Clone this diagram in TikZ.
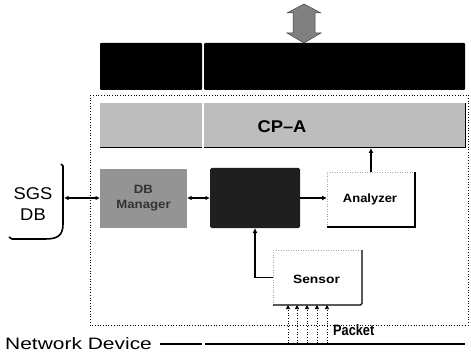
\documentclass[tikz,border=0pt]{standalone}
\usepackage{fontspec}
\usepackage{graphicx}
\setmainfont{Liberation Sans}
\usetikzlibrary{arrows.meta}
\newcommand\hsc[2]{\scalebox{#1}[1]{#2}}
\definecolor{cpgray}{gray}{0.74}
\begin{document}
\begin{tikzpicture}[x=1pt,y=-1pt,
  blk/.style={rectangle,inner sep=0pt,outer sep=0pt},
  arr/.style={-{Latex[length=5pt,width=5pt]},line width=1.2pt},
  darr/.style={{Latex[length=4.5pt,width=4.5pt]}-{Latex[length=4.5pt,width=4.5pt]},line width=1.2pt},
  pkt/.style={-{Triangle[length=4pt,width=4pt]},dotted,line width=0.7pt},
  lbl/.style={inner sep=0pt,align=center}]
\useasboundingbox (0,0) rectangle (471,358);
% top double block arrow
\filldraw[fill=black!50,draw=black!75,line width=0.5pt]
  (304,4) -- (321,13) -- (315,13) -- (315,33) -- (321,33) -- (304,43)
  -- (287,33) -- (293,33) -- (293,13) -- (287,13) -- cycle;
% black bar
\node[blk,fill=black,minimum width=102pt,minimum height=47pt,rounded corners=1pt] (bar1) at (151,66.5) {};
\node[blk,fill=black,minimum width=261pt,minimum height=47pt,rounded corners=1pt] (bar2) at (334.5,66.5) {};
% outer dotted box
\draw[dotted,line width=0.7pt] (90,95) rectangle (468,325);
% CP-A
\node[blk,fill=cpgray,minimum width=102pt,minimum height=45pt] (cpl) at (151,125.5) {};
\node[blk,fill=cpgray,minimum width=261pt,minimum height=45pt] (cpr) at (334.5,125.5) {};
\draw[line width=1pt] (cpl.south west) -- (cpl.south east);
\draw[line width=1pt] (cpr.south west) -- (cpr.south east) -- (cpr.north east);
\node[lbl,font=\fontsize{17}{20}\selectfont\bfseries] (cpa) at (282,127) {\hsc{1.08}{CP--A}};
% DB manager
\node[blk,fill=black!42,minimum width=87pt,minimum height=59pt] (dbm) at (143.5,198.5) {};
\node[lbl,font=\fontsize{12}{15}\selectfont\bfseries,text=black!80] (dbt) at (143.5,198.5) {\hsc{1.1}{DB}\\\hsc{1.1}{Manager}};
% dark box
\node[blk,fill=black!88,minimum width=90pt,minimum height=60pt,rounded corners=1.5pt] (ctl) at (255,198) {};
% Analyzer
\node[blk,minimum width=88pt,minimum height=55pt] (ana) at (371,199.5) {};
\draw[black!35,dotted,line width=0.5pt] (ana.south west) -- (ana.north west) -- (ana.north east);
\draw[line width=1.2pt] (ana.north east) -- (ana.south east) -- (ana.south west);
\node[lbl,font=\fontsize{12}{14}\selectfont\bfseries] (anat) at (370,199.5) {\hsc{1.08}{Analyzer}};
% Sensor
\node[blk,minimum width=89pt,minimum height=55pt] (sen) at (317.5,277.5) {};
\draw[black!35,dotted,line width=0.5pt] (sen.south west) -- (sen.north west) -- (sen.north east);
\draw[line width=1.2pt,rounded corners=1.5pt] (sen.north east) -- (sen.south east) -- (sen.south west);
\node[lbl,font=\fontsize{12}{14}\selectfont\bfseries] (sent) at (316.5,279) {\hsc{1.15}{Sensor}};
% SGS DB
\node[lbl,font=\fontsize{17}{21}\selectfont] (sgs) at (33,204) {\hsc{1.08}{SGS}\\\hsc{1.08}{DB}};
\draw[line width=1.6pt] (61,164) -- (63,166) -- (63,224)
  .. controls (63,236) and (57,239) .. (45,239) -- (12,239) -- (9,237);
\coordinate (sgsr) at (64,198);
% connectors
\draw[darr] (sgsr) -- (sgsr -| dbm.west);
\draw[darr] (dbm.east |- ctl.west) -- (ctl.west);
\draw[arr] (ctl.east) -- (ctl.east -| ana.west);
\draw[arr] (ana.north) -- (ana.north |- cpr.south);
\draw[arr] (sen.west) -| (ctl.south);
% network device line
\node[lbl,font=\fontsize{16.5}{20}\selectfont,anchor=west] (nd) at (5,344) {\hsc{1.27}{Network Device}};
\coordinate (n1) at (160,344);
\coordinate (n2) at (202,344);
\coordinate (n3) at (205,344);
\coordinate (n4) at (465,344);
\draw[line width=1.8pt] (n1) -- (n2);
\draw[line width=1.8pt] (n3) -- (n4);
% packets
\foreach \i/\x in {1/288,2/297,3/307,4/317,5/327}{
  \coordinate (p\i) at (\x,343);
  \draw[pkt] (p\i) -- (p\i |- sen.south);
}
\node[lbl,font=\fontsize{15}{18}\selectfont\bfseries,anchor=west] (pk) at (333,330) {\hsc{0.85}{Packet}};
\end{tikzpicture}
\end{document}
